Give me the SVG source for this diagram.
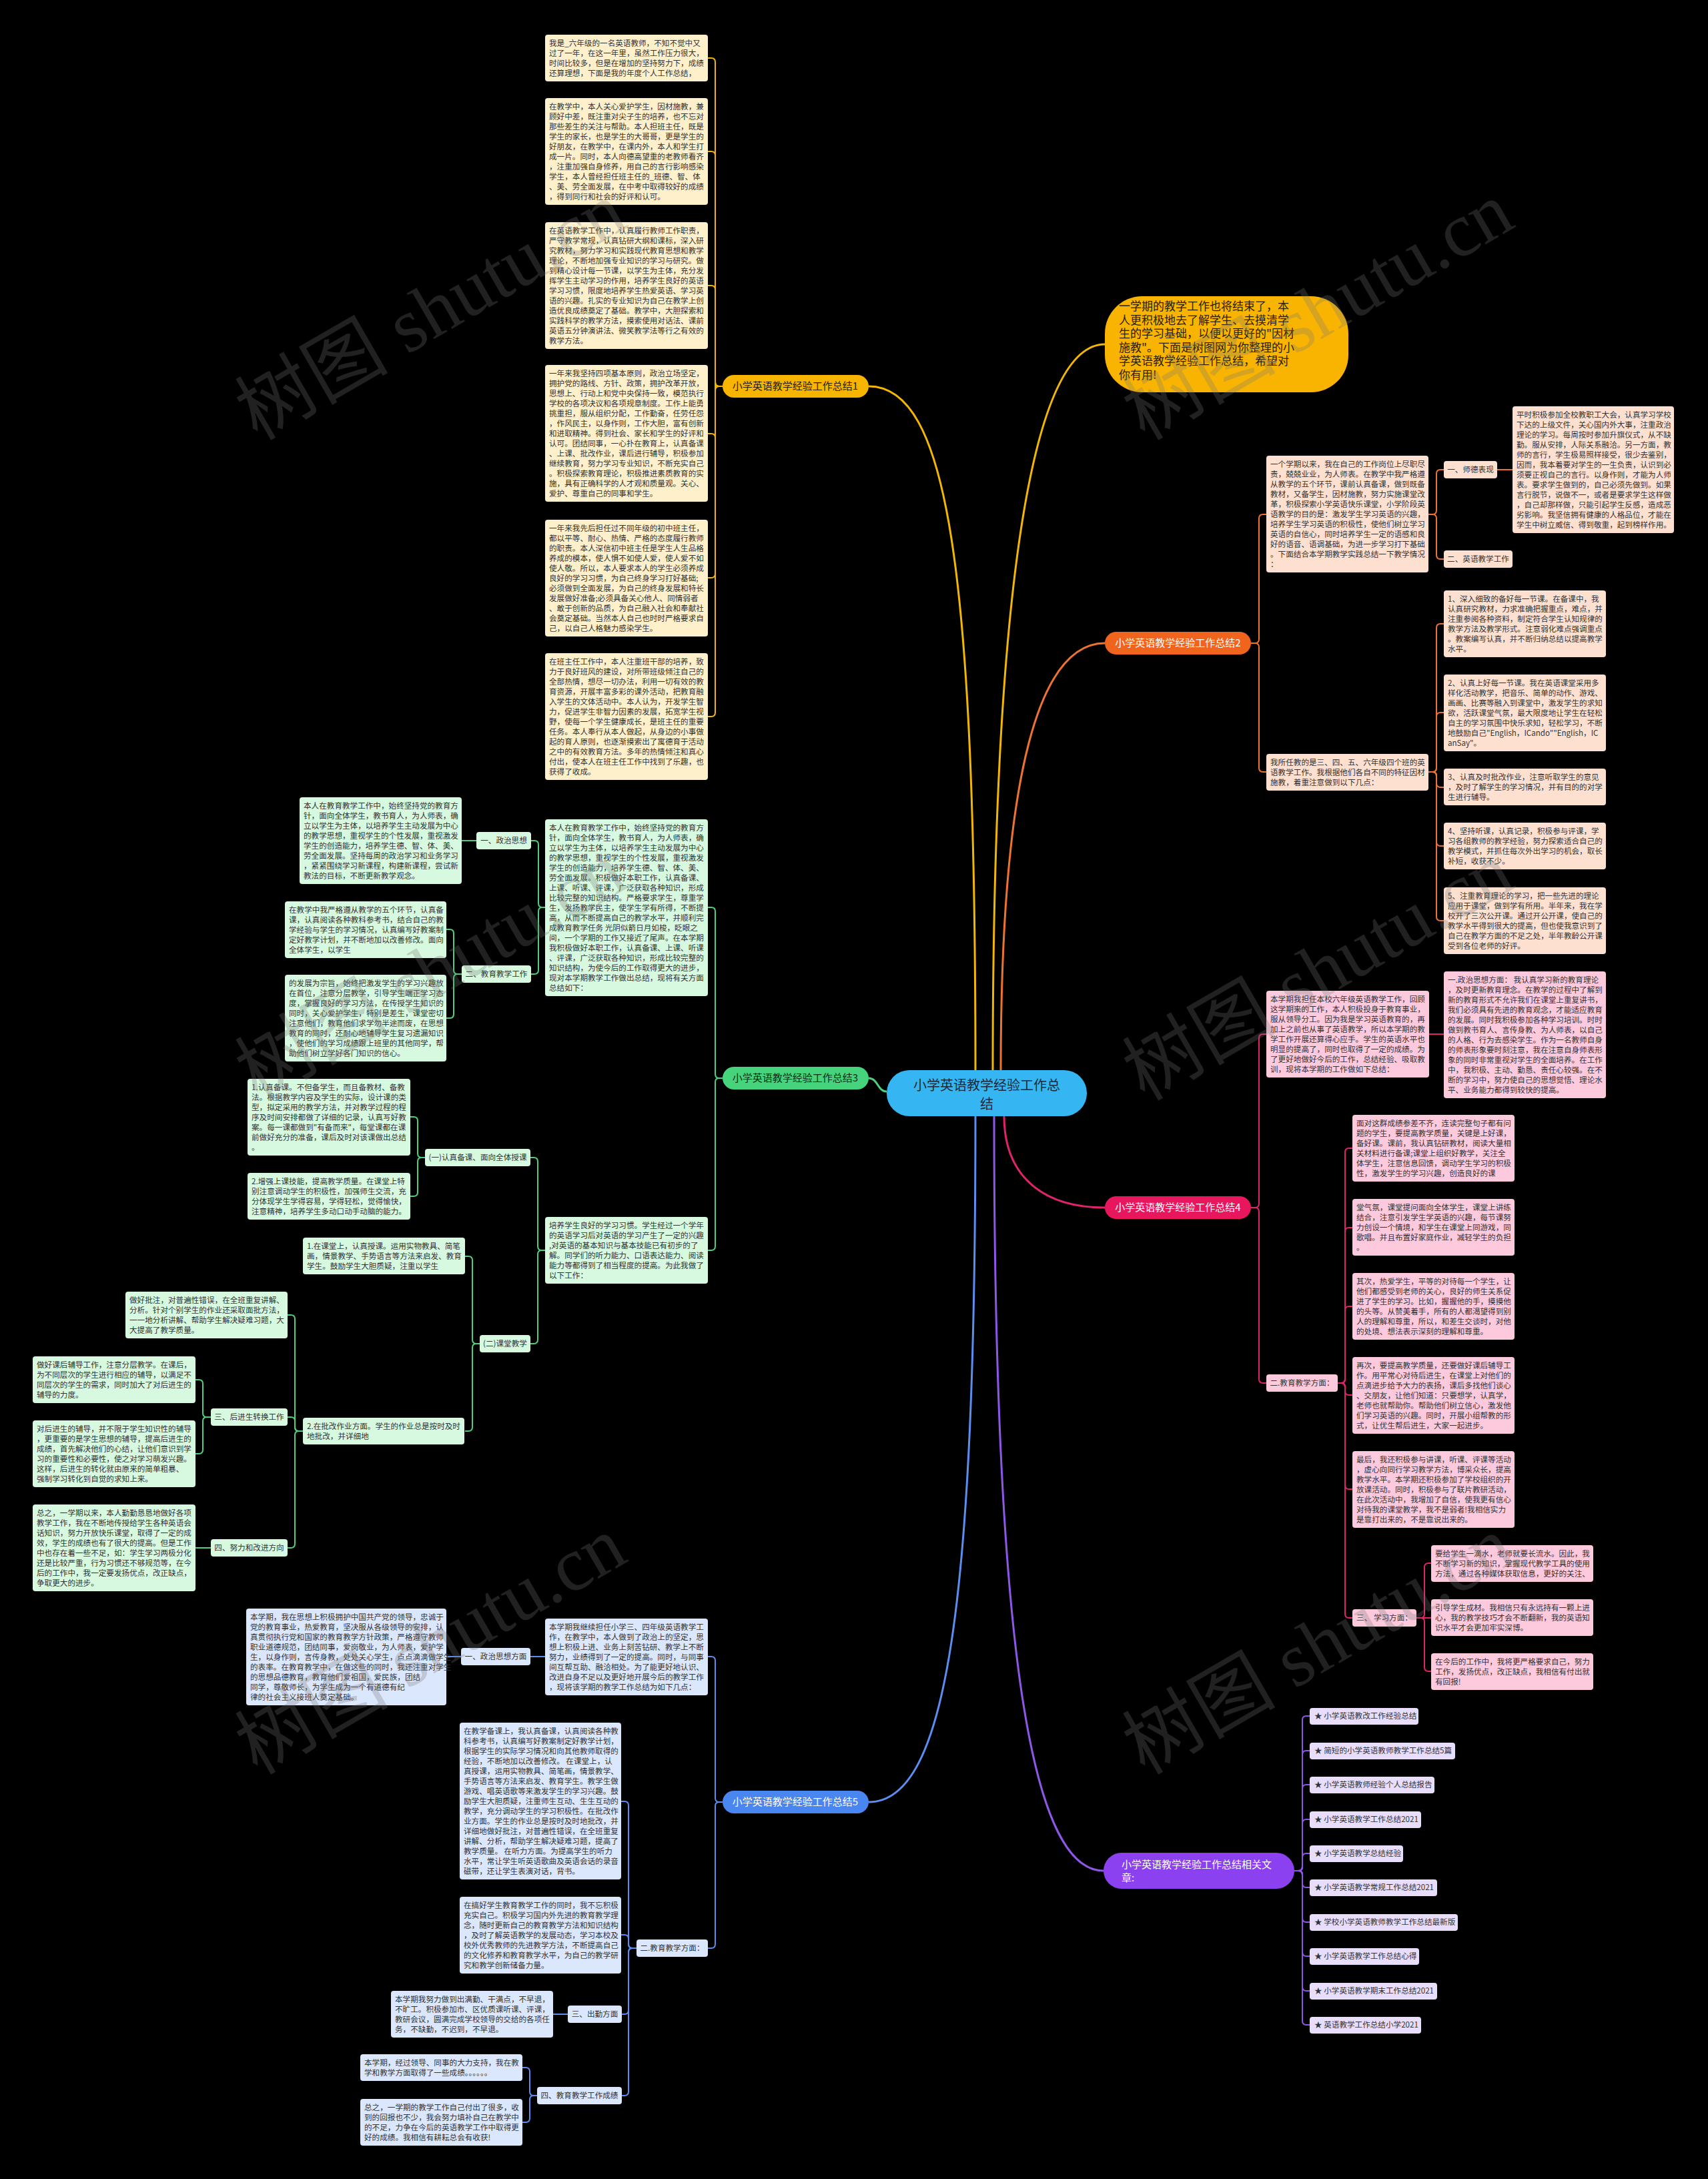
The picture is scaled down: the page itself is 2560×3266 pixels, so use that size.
<svg xmlns="http://www.w3.org/2000/svg" width="2560" height="3266" viewBox="0 0 2560 3266">
<style>
text{font-family:"Noto Sans CJK SC","Noto Sans",sans-serif}
.t{font-size:11.6px;fill:#333}
.lb{font-size:11.6px;fill:#333;text-anchor:middle}
.pl{font-size:15px;text-anchor:middle}
.c{fill:none;stroke-width:2}
.m{fill:none;stroke-width:3}
.ly{stroke:#f2b705}.lg{stroke:#4fcf7e}.lbu{stroke:#5b8ef0}.lo{stroke:#ee7330}.lm{stroke:#e0246b}.lp{stroke:#8f57e8}
.by{fill:#fdf0cb}.bg{fill:#d6f9e0}.bb{fill:#dbe7fd}.bo{fill:#fde0d0}.bm{fill:#fdc9dd}.bp{fill:#e8ddfb}
.wm{font-family:"Liberation Serif","Noto Sans CJK SC",serif;font-size:115px;fill:#777;fill-opacity:0.28;text-anchor:middle}
</style>
<rect width="2560" height="3266" fill="#000"/>

<g id="connectors">
<path class="m ly" d="M1488,1604 C1488,800 1560,516 1656,516"/>
<path class="m ly" d="M1462,1604 C1462,850 1420,579 1302,579"/>
<path class="m lo" d="M1500,1604 C1500,1150 1560,964 1656,964"/>
<path class="m lg" d="M1329,1636 C1315,1636 1316,1616 1302,1616"/>
<path class="m lm" d="M1505,1673 C1505,1760 1560,1810 1656,1810"/>
<path class="m lbu" d="M1462,1673 C1462,2400 1420,2701 1302,2701"/>
<path class="m lp" d="M1490,1673 C1490,2500 1550,2804 1654,2804"/>

<path class="c ly" d="M1083,579H1078Q1072,579 1072,573V93Q1072,87 1066,87H1061"/>
<path class="c ly" d="M1083,579H1078Q1072,579 1072,573V233Q1072,227 1066,227H1061"/>
<path class="c ly" d="M1083,579H1078Q1072,579 1072,573V434Q1072,428 1066,428H1061"/>
<path class="c ly" d="M1083,579H1078Q1072,579 1072,573V656Q1072,650 1066,650H1061"/>
<path class="c ly" d="M1083,579H1078Q1072,579 1072,585V860Q1072,866 1066,866H1061"/>
<path class="c ly" d="M1083,579H1078Q1072,579 1072,585V1068Q1072,1074 1066,1074H1061"/>

<path class="c lg" d="M1083,1616H1078Q1072,1616 1072,1610V1366Q1072,1360 1066,1360H1061"/>
<path class="c lg" d="M1083,1616H1078Q1072,1616 1072,1622V1868Q1072,1874 1066,1874H1061"/>
<path class="c lg" d="M817,1360H813Q807,1360 807,1354V1266Q807,1260 801,1260H796"/>
<path class="c lg" d="M817,1360H813Q807,1360 807,1366V1454Q807,1460 801,1460H796"/>
<path class="c lg" d="M714,1260H692"/>
<path class="c lg" d="M692,1460H686Q680,1460 680,1454V1399Q680,1393 674,1393H669"/>
<path class="c lg" d="M692,1460H686Q680,1460 680,1466V1520Q680,1526 674,1526H669"/>
<path class="c lg" d="M817,1874H812Q806,1874 806,1868V1741Q806,1735 800,1735H795"/>
<path class="c lg" d="M817,1874H812Q806,1874 806,1880V2008Q806,2014 800,2014H795"/>
<path class="c lg" d="M637,1735H632Q626,1735 626,1729V1680Q626,1674 620,1674H615"/>
<path class="c lg" d="M637,1735H632Q626,1735 626,1741V1787Q626,1793 620,1793H615"/>
<path class="c lg" d="M719,2014H714Q708,2014 708,2008V1889Q708,1883 702,1883H697"/>
<path class="c lg" d="M719,2014H714Q708,2014 708,2020V2139Q708,2145 702,2145H697"/>
<path class="c lg" d="M454,2145H448Q442,2145 442,2139V1977Q442,1971 436,1971H431"/>
<path class="c lg" d="M454,2145H448Q442,2145 442,2139V2130Q442,2124 436,2124H431"/>
<path class="c lg" d="M454,2145H448Q442,2145 442,2151V2314Q442,2320 436,2320H431"/>
<path class="c lg" d="M316,2124H310Q304,2124 304,2118V2074Q304,2068 298,2068H293"/>
<path class="c lg" d="M316,2124H310Q304,2124 304,2130V2173Q304,2179 298,2179H293"/>
<path class="c lg" d="M316,2320H293"/>

<path class="c lbu" d="M1083,2701H1078Q1072,2701 1072,2695V2489Q1072,2483 1066,2483H1061"/>
<path class="c lbu" d="M1083,2701H1078Q1072,2701 1072,2707V2914Q1072,2920 1066,2920H1061"/>
<path class="c lbu" d="M817,2483H795"/>
<path class="c lbu" d="M691,2483H669"/>
<path class="c lbu" d="M954,2920H948Q942,2920 942,2914V2706Q942,2700 936,2700H931"/>
<path class="c lbu" d="M954,2920H948Q942,2920 942,2914V2906Q942,2900 936,2900H931"/>
<path class="c lbu" d="M954,2920H948Q942,2920 942,2926V3013Q942,3019 936,3019H932"/>
<path class="c lbu" d="M954,2920H948Q942,2920 942,2926V3135Q942,3141 936,3141H932"/>
<path class="c lbu" d="M851,3019H829"/>
<path class="c lbu" d="M805,3141H800Q794,3141 794,3135V3105Q794,3099 788,3099H783"/>
<path class="c lbu" d="M805,3141H800Q794,3141 794,3147V3175Q794,3181 788,3181H783"/>

<path class="c lo" d="M1875,964H1881Q1887,964 1887,958V777Q1887,771 1893,771H1898"/>
<path class="c lo" d="M1875,964H1881Q1887,964 1887,970V1151Q1887,1157 1893,1157H1898"/>
<path class="c lo" d="M2141,771H2147Q2153,771 2153,765V710Q2153,704 2159,704H2164"/>
<path class="c lo" d="M2141,771H2147Q2153,771 2153,777V832Q2153,838 2159,838H2164"/>
<path class="c lo" d="M2244,704H2267"/>
<path class="c lo" d="M2141,1157H2147Q2153,1157 2153,1151V941Q2153,935 2159,935H2164"/>
<path class="c lo" d="M2141,1157H2147Q2153,1157 2153,1151V1074Q2153,1068 2159,1068H2164"/>
<path class="c lo" d="M2141,1157H2147Q2153,1157 2153,1163V1174Q2153,1180 2159,1180H2164"/>
<path class="c lo" d="M2141,1157H2147Q2153,1157 2153,1163V1262Q2153,1268 2159,1268H2164"/>
<path class="c lo" d="M2141,1157H2147Q2153,1157 2153,1163V1374Q2153,1380 2159,1380H2164"/>

<path class="c lm" d="M1875,1810H1881Q1887,1810 1887,1804V1556Q1887,1550 1893,1550H1898"/>
<path class="c lm" d="M1875,1810H1881Q1887,1810 1887,1816V2067Q1887,2073 1893,2073H1898"/>
<path class="c lm" d="M2142,1550H2164"/>
<path class="c lm" d="M2005,2073H2010Q2016,2073 2016,2067V1727Q2016,1721 2022,1721H2027"/>
<path class="c lm" d="M2005,2073H2010Q2016,2073 2016,2067V1846Q2016,1840 2022,1840H2027"/>
<path class="c lm" d="M2005,2073H2010Q2016,2073 2016,2067V1964Q2016,1958 2022,1958H2027"/>
<path class="c lm" d="M2005,2073H2010Q2016,2073 2016,2079V2085Q2016,2091 2022,2091H2027"/>
<path class="c lm" d="M2005,2073H2010Q2016,2073 2016,2079V2226Q2016,2232 2022,2232H2027"/>
<path class="c lm" d="M2005,2073H2010Q2016,2073 2016,2079V2419Q2016,2425 2022,2425H2027"/>
<path class="c lm" d="M2123,2425H2129Q2135,2425 2135,2419V2349Q2135,2343 2141,2343H2145"/>
<path class="c lm" d="M2123,2425H2145"/>
<path class="c lm" d="M2123,2425H2129Q2135,2425 2135,2431V2499Q2135,2505 2141,2505H2145"/>

<path class="c lp" d="M1940,2804H1946Q1952,2804 1952,2798V2578Q1952,2572 1958,2572H1963"/>
<path class="c lp" d="M1940,2804H1946Q1952,2804 1952,2798V2630Q1952,2624 1958,2624H1963"/>
<path class="c lp" d="M1940,2804H1946Q1952,2804 1952,2798V2681Q1952,2675 1958,2675H1963"/>
<path class="c lp" d="M1940,2804H1946Q1952,2804 1952,2798V2733Q1952,2727 1958,2727H1963"/>
<path class="c lp" d="M1940,2804H1946Q1952,2804 1952,2798V2784Q1952,2778 1958,2778H1963"/>
<path class="c lp" d="M1940,2804H1946Q1952,2804 1952,2810V2823Q1952,2829 1958,2829H1963"/>
<path class="c lp" d="M1940,2804H1946Q1952,2804 1952,2810V2875Q1952,2881 1958,2881H1963"/>
<path class="c lp" d="M1940,2804H1946Q1952,2804 1952,2810V2926Q1952,2932 1958,2932H1963"/>
<path class="c lp" d="M1940,2804H1946Q1952,2804 1952,2810V2978Q1952,2984 1958,2984H1963"/>
<path class="c lp" d="M1940,2804H1946Q1952,2804 1952,2810V3029Q1952,3035 1958,3035H1963"/>
</g>

<g id="center">
<rect x="1329" y="1604" width="300" height="69" rx="34" fill="#35b6f2"/>
<text x="1479" y="1634" text-anchor="middle" font-size="20" fill="#1e2a3a">小学英语教学经验工作总<tspan x="1479" dy="28">结</tspan></text>
</g>

<g id="intro">
<rect x="1656" y="444" width="365" height="144" rx="56" fill="#f8b400"/>
<text x="1677" y="465" font-size="17" fill="#2a2000"><tspan x="1677" dy="0">一学期的教学工作也将结束了，本</tspan><tspan x="1677" dy="20.5">人更积极地去了解学生、去摸清学</tspan><tspan x="1677" dy="20.5">生的学习基础，以便以更好的"因材</tspan><tspan x="1677" dy="20.5">施教"。下面是树图网为你整理的小</tspan><tspan x="1677" dy="20.5">学英语教学经验工作总结，希望对</tspan><tspan x="1677" dy="20.5">你有用!</tspan></text>
</g>

<g id="s1">
<rect x="1083" y="562" width="219" height="34" rx="17" fill="#f7b500"/>
<text class="pl" x="1192" y="584" fill="#2a2000">小学英语教学经验工作总结1</text>
</g>
<g id="s1-1"><rect class="by" x="817" y="52" width="244" height="70" rx="4"/>
<text class="t" x="823" y="68.5"><tspan x="823" dy="0">我是_六年级的一名英语教师，不知不觉中又</tspan><tspan x="823" dy="15">过了一年，在这一年里，虽然工作压力很大，</tspan><tspan x="823" dy="15">时间比较多，但是在增加的坚持努力下，成绩</tspan><tspan x="823" dy="15">还算理想，下面是我的年度个人工作总结，</tspan></text></g>
<g id="s1-2"><rect class="by" x="817" y="147" width="244" height="160" rx="4"/>
<text class="t" x="823" y="163.5"><tspan x="823" dy="0">在教学中，本人关心爱护学生，因材施教，兼</tspan><tspan x="823" dy="15">顾好中差，既注重对尖子生的培养，也不忘对</tspan><tspan x="823" dy="15">那些差生的关注与帮助。本人担班主任，既是</tspan><tspan x="823" dy="15">学生的家长，也是学生的大哥哥，更是学生的</tspan><tspan x="823" dy="15">好朋友，在教学中，在课内外，本人和学生打</tspan><tspan x="823" dy="15">成一片。同时，本人向德高望重的老教师看齐</tspan><tspan x="823" dy="15">，注重加强自身修养，用自己的言行影响感染</tspan><tspan x="823" dy="15">学生，本人曾经担任班主任的_班德、智、体</tspan><tspan x="823" dy="15">、美、劳全面发展，在中考中取得较好的成绩</tspan><tspan x="823" dy="15">，得到同行和社会的好评和认可。</tspan></text></g>
<g id="s1-3"><rect class="by" x="817" y="333" width="244" height="190" rx="4"/>
<text class="t" x="823" y="349.5"><tspan x="823" dy="0">在英语教学工作中，认真履行教师工作职责，</tspan><tspan x="823" dy="15">严守教学常规，认真钻研大纲和课标，深入研</tspan><tspan x="823" dy="15">究教材，努力学习和实践现代教育思想和教学</tspan><tspan x="823" dy="15">理论，不断地加强专业知识的学习与研究。做</tspan><tspan x="823" dy="15">到精心设计每一节课，以学生为主体，充分发</tspan><tspan x="823" dy="15">挥学生主动学习的作用，培养学生良好的英语</tspan><tspan x="823" dy="15">学习习惯，限度地培养学生热爱英语、学习英</tspan><tspan x="823" dy="15">语的兴趣。扎实的专业知识为自己在教学上创</tspan><tspan x="823" dy="15">造优良成绩奠定了基础。教学中，大胆探索和</tspan><tspan x="823" dy="15">实践科学的教学方法，摸索使用对话法、课前</tspan><tspan x="823" dy="15">英语五分钟演讲法、微笑教学法等行之有效的</tspan><tspan x="823" dy="15">教学方法。</tspan></text></g>
<g id="s1-4"><rect class="by" x="817" y="547" width="244" height="205" rx="4"/>
<text class="t" x="823" y="563.5"><tspan x="823" dy="0">一年来我坚持四项基本原则，政治立场坚定，</tspan><tspan x="823" dy="15">拥护党的路线、方针、政策，拥护改革开放，</tspan><tspan x="823" dy="15">思想上、行动上和党中央保持一致，模范执行</tspan><tspan x="823" dy="15">学校的各项决议和各项规章制度。工作上能勇</tspan><tspan x="823" dy="15">挑重担，服从组织分配，工作勤奋，任劳任怨</tspan><tspan x="823" dy="15">，作风民主，以身作则，工作大胆，富有创新</tspan><tspan x="823" dy="15">和进取精神。得到社会、家长和学生的好评和</tspan><tspan x="823" dy="15">认可。团结同事，一心扑在教育上，认真备课</tspan><tspan x="823" dy="15">、上课、批改作业，课后进行辅导，积极参加</tspan><tspan x="823" dy="15">继续教育，努力学习专业知识，不断充实自己</tspan><tspan x="823" dy="15">。积极探索教育理论，积极推进素质教育的实</tspan><tspan x="823" dy="15">施，具有正确科学的人才观和质量观。关心、</tspan><tspan x="823" dy="15">爱护、尊重自己的同事和学生。</tspan></text></g>
<g id="s1-5"><rect class="by" x="817" y="779" width="244" height="175" rx="4"/>
<text class="t" x="823" y="795.5"><tspan x="823" dy="0">一年来我先后担任过不同年级的初中班主任，</tspan><tspan x="823" dy="15">都以平等、耐心、热情、严格的态度履行教师</tspan><tspan x="823" dy="15">的职责。本人深信初中班主任是学生人生品格</tspan><tspan x="823" dy="15">养成的模本，使人惧不如使人爱，使人爱不如</tspan><tspan x="823" dy="15">使人敬。所以，本人要求本人的学生必须养成</tspan><tspan x="823" dy="15">良好的学习习惯，为自己终身学习打好基础;</tspan><tspan x="823" dy="15">必须做到全面发展，为自己的终身发展和特长</tspan><tspan x="823" dy="15">发展做好准备;必须具备关心他人、同情弱者</tspan><tspan x="823" dy="15">、敢于创新的品质，为自己融入社会和奉献社</tspan><tspan x="823" dy="15">会奠定基础。当然本人自己也时时严格要求自</tspan><tspan x="823" dy="15">己，以自己人格魅力感染学生。</tspan></text></g>
<g id="s1-6"><rect class="by" x="817" y="979" width="244" height="190" rx="4"/>
<text class="t" x="823" y="995.5"><tspan x="823" dy="0">在班主任工作中，本人注重班干部的培养，致</tspan><tspan x="823" dy="15">力于良好班风的建设，对所带班级倾注自己的</tspan><tspan x="823" dy="15">全部热情，想尽一切办法，利用一切有效的教</tspan><tspan x="823" dy="15">育资源，开展丰富多彩的课外活动，把教育融</tspan><tspan x="823" dy="15">入学生的文体活动中。本人认为，开发学生智</tspan><tspan x="823" dy="15">力，促进学生非智力因素的发展，拓宽学生视</tspan><tspan x="823" dy="15">野，使每一个学生健康成长，是班主任的重要</tspan><tspan x="823" dy="15">任务。本人奉行从本人做起，从身边的小事做</tspan><tspan x="823" dy="15">起的育人原则，也逐渐摸索出了寓德育于活动</tspan><tspan x="823" dy="15">之中的有效教育方法。多年的热情倾注和真心</tspan><tspan x="823" dy="15">付出，使本人在班主任工作中找到了乐趣，也</tspan><tspan x="823" dy="15">获得了收成。</tspan></text></g>

<g id="s3">
<rect x="1083" y="1599" width="219" height="34" rx="17" fill="#45d47b"/>
<text class="pl" x="1192" y="1621" fill="#0f2a18">小学英语教学经验工作总结3</text>
</g>
<g id="s3-a"><rect class="bg" x="817" y="1228" width="244" height="265" rx="4"/>
<text class="t" x="823" y="1244.5"><tspan x="823" dy="0">本人在教育教学工作中，始终坚持党的教育方</tspan><tspan x="823" dy="15">针，面向全体学生，教书育人，为人师表，确</tspan><tspan x="823" dy="15">立以学生为主体，以培养学生主动发展为中心</tspan><tspan x="823" dy="15">的教学思想，重视学生的个性发展，重视激发</tspan><tspan x="823" dy="15">学生的创造能力，培养学生德、智、体、美、</tspan><tspan x="823" dy="15">劳全面发展。积极做好本职工作，认真备课、</tspan><tspan x="823" dy="15">上课、听课、评课，广泛获取各种知识，形成</tspan><tspan x="823" dy="15">比较完整的知识结构。严格要求学生，尊重学</tspan><tspan x="823" dy="15">生，发扬教学民主，使学生学有所得，不断提</tspan><tspan x="823" dy="15">高，从而不断提高自己的教学水平，并顺利完</tspan><tspan x="823" dy="15">成教育教学任务 光阴似箭日月如梭，眨眼之</tspan><tspan x="823" dy="15">间，一个学期的工作又接近了尾声。在本学期</tspan><tspan x="823" dy="15">我积极做好本职工作，认真备课、上课、听课</tspan><tspan x="823" dy="15">、评课，广泛获取各种知识，形成比较完整的</tspan><tspan x="823" dy="15">知识结构，为使今后的工作取得更大的进步，</tspan><tspan x="823" dy="15">现对本学期教学工作做出总结，现将有关方面</tspan><tspan x="823" dy="15">总结如下：</tspan></text></g>
<g id="s3-a1"><rect class="bg" x="714" y="1247" width="82" height="26" rx="4"/><text class="lb" x="755" y="1264">一、政治思想</text></g>
<g id="s3-a1c"><rect class="bg" x="449" y="1195" width="243" height="130" rx="4"/>
<text class="t" x="455" y="1211.5"><tspan x="455" dy="0">本人在教育教学工作中，始终坚持党的教育方</tspan><tspan x="455" dy="15">针，面向全体学生，教书育人，为人师表，确</tspan><tspan x="455" dy="15">立以学生为主体，以培养学生主动发展为中心</tspan><tspan x="455" dy="15">的教学思想，重视学生的个性发展，重视激发</tspan><tspan x="455" dy="15">学生的创造能力，培养学生德、智、体、美、</tspan><tspan x="455" dy="15">劳全面发展。坚持每周的政治学习和业务学习</tspan><tspan x="455" dy="15">，紧紧围绕学习新课程，构建新课程，尝试新</tspan><tspan x="455" dy="15">教法的目标，不断更新教学观念。</tspan></text></g>
<g id="s3-a2"><rect class="bg" x="692" y="1447" width="104" height="26" rx="4"/><text class="lb" x="744" y="1464">二、教育教学工作</text></g>
<g id="s3-a2c1"><rect class="bg" x="427" y="1351" width="242" height="85" rx="4"/>
<text class="t" x="433" y="1367.5"><tspan x="433" dy="0">在教学中我严格遵从教学的五个环节，认真备</tspan><tspan x="433" dy="15">课，认真阅读各种教科参考书，结合自己的教</tspan><tspan x="433" dy="15">学经验与学生的学习情况，认真编写好教案制</tspan><tspan x="433" dy="15">定好教学计划，并不断地加以改善修改。面向</tspan><tspan x="433" dy="15">全体学生，以学生</tspan></text></g>
<g id="s3-a2c2"><rect class="bg" x="427" y="1461" width="242" height="130" rx="4"/>
<text class="t" x="433" y="1477.5"><tspan x="433" dy="0">的发展为宗旨，始终把激发学生的学习兴趣放</tspan><tspan x="433" dy="15">在首位，注意分层教学，引导学生端正学习态</tspan><tspan x="433" dy="15">度，掌握良好的学习方法，在传授学生知识的</tspan><tspan x="433" dy="15">同时，关心爱护学生，特别是差生，课堂密切</tspan><tspan x="433" dy="15">注意他们，教育他们求学勿半途而废，在思想</tspan><tspan x="433" dy="15">教育的同时，还耐心地辅导学生复习遗漏知识</tspan><tspan x="433" dy="15">，使他们的学习成绩跟上班里的其他同学，帮</tspan><tspan x="433" dy="15">助他们树立学好各门知识的信心。</tspan></text></g>
<g id="s3-b"><rect class="bg" x="817" y="1824" width="244" height="100" rx="4"/>
<text class="t" x="823" y="1840.5"><tspan x="823" dy="0">培养学生良好的学习习惯。学生经过一个学年</tspan><tspan x="823" dy="15">的英语学习后对英语的学习产生了一定的兴趣</tspan><tspan x="823" dy="15">,对英语的基本知识与基本技能已有初步的了</tspan><tspan x="823" dy="15">解。同学们的听力能力、口语表达能力、阅读</tspan><tspan x="823" dy="15">能力等都得到了相当程度的提高。为此我做了</tspan><tspan x="823" dy="15">以下工作：</tspan></text></g>
<g id="s3-b1"><rect class="bg" x="637" y="1722" width="158" height="26" rx="4"/><text class="lb" x="716" y="1739">(一)认真备课、面向全体授课</text></g>
<g id="s3-b1c1"><rect class="bg" x="371" y="1617" width="244" height="115" rx="4"/>
<text class="t" x="377" y="1633.5"><tspan x="377" dy="0">1.认真备课。不但备学生，而且备教材、备教</tspan><tspan x="377" dy="15">法。根据教学内容及学生的实际，设计课的类</tspan><tspan x="377" dy="15">型，拟定采用的教学方法，并对教学过程的程</tspan><tspan x="377" dy="15">序及时间安排都做了详细的记录，认真写好教</tspan><tspan x="377" dy="15">案。每一课都做到"有备而来"，每堂课都在课</tspan><tspan x="377" dy="15">前做好充分的准备，课后及时对该课做出总结</tspan><tspan x="377" dy="15">。</tspan></text></g>
<g id="s3-b1c2"><rect class="bg" x="371" y="1758" width="244" height="70" rx="4"/>
<text class="t" x="377" y="1774.5"><tspan x="377" dy="0">2.增强上课技能，提高教学质量。在课堂上特</tspan><tspan x="377" dy="15">别注意调动学生的积极性，加强师生交流，充</tspan><tspan x="377" dy="15">分体现学生学得容易，学得轻松，觉得愉快，</tspan><tspan x="377" dy="15">注意精神，培养学生多动口动手动脑的能力。</tspan></text></g>
<g id="s3-b2"><rect class="bg" x="719" y="2001" width="76" height="26" rx="4"/><text class="lb" x="757" y="2018">(二)课堂教学</text></g>
<g id="s3-b2c1"><rect class="bg" x="454" y="1855" width="243" height="55" rx="4"/>
<text class="t" x="460" y="1871.5"><tspan x="460" dy="0">1.在课堂上，认真授课。运用实物教具、简笔</tspan><tspan x="460" dy="15">画，情景教学、手势语言等方法来启发、教育</tspan><tspan x="460" dy="15">学生。鼓励学生大胆质疑，注重以学生</tspan></text></g>
<g id="s3-b2c2"><rect class="bg" x="454" y="2125" width="242" height="40" rx="4"/>
<text class="t" x="460" y="2141.5"><tspan x="460" dy="0">2.在批改作业方面。学生的作业总是按时及时</tspan><tspan x="460" dy="15">地批改，并详细地</tspan></text></g>
<g id="s3-pz"><rect class="bg" x="188" y="1936" width="243" height="70" rx="4"/>
<text class="t" x="194" y="1952.5"><tspan x="194" dy="0">做好批注，对普遍性错误，在全班重复讲解、</tspan><tspan x="194" dy="15">分析。针对个别学生的作业还采取面批方法，</tspan><tspan x="194" dy="15">一一地分析讲解、帮助学生解决疑难习题，大</tspan><tspan x="194" dy="15">大提高了教学质量。</tspan></text></g>
<g id="s3-hj"><rect class="bg" x="316" y="2111" width="115" height="26" rx="4"/><text class="lb" x="373.5" y="2128">三、后进生转换工作</text></g>
<g id="s3-hj1"><rect class="bg" x="49" y="2033" width="244" height="70" rx="4"/>
<text class="t" x="55" y="2049.5"><tspan x="55" dy="0">做好课后辅导工作，注意分层教学。在课后，</tspan><tspan x="55" dy="15">为不同层次的学生进行相应的辅导，以满足不</tspan><tspan x="55" dy="15">同层次的学生的需求，同时加大了对后进生的</tspan><tspan x="55" dy="15">辅导的力度。</tspan></text></g>
<g id="s3-hj2"><rect class="bg" x="49" y="2129" width="244" height="100" rx="4"/>
<text class="t" x="55" y="2145.5"><tspan x="55" dy="0">对后进生的辅导，并不限于学生知识性的辅导</tspan><tspan x="55" dy="15">，更重要的是学生思想的辅导，提高后进生的</tspan><tspan x="55" dy="15">成绩，首先解决他们的心结，让他们意识到学</tspan><tspan x="55" dy="15">习的重要性和必要性，使之对学习萌发兴趣。</tspan><tspan x="55" dy="15">这样，后进生的转化就由原来的简单粗暴、</tspan><tspan x="55" dy="15">强制学习转化到自觉的求知上来。</tspan></text></g>
<g id="s3-nl"><rect class="bg" x="316" y="2307" width="115" height="26" rx="4"/><text class="lb" x="373.5" y="2324">四、努力和改进方向</text></g>
<g id="s3-nl1"><rect class="bg" x="49" y="2255" width="244" height="130" rx="4"/>
<text class="t" x="55" y="2271.5"><tspan x="55" dy="0">总之，一学期以来，本人勤勤恳恳地做好各项</tspan><tspan x="55" dy="15">教学工作，我在不断地传授给学生各种英语会</tspan><tspan x="55" dy="15">话知识，努力开放快乐课堂，取得了一定的成</tspan><tspan x="55" dy="15">效，学生的成绩也有了很大的提高。但是工作</tspan><tspan x="55" dy="15">中也存在着一些不足，如：学生学习两极分化</tspan><tspan x="55" dy="15">还是比较严重，行为习惯还不够规范等，在今</tspan><tspan x="55" dy="15">后的工作中，我一定要发扬优点，改正缺点，</tspan><tspan x="55" dy="15">争取更大的进步。</tspan></text></g>

<g id="s5">
<rect x="1083" y="2684" width="219" height="34" rx="17" fill="#4a86f0"/>
<text class="pl" x="1192" y="2706" fill="#fff">小学英语教学经验工作总结5</text>
</g>
<g id="s5-c"><rect class="bb" x="817" y="2426" width="244" height="115" rx="4"/>
<text class="t" x="823" y="2442.5"><tspan x="823" dy="0">本学期我继续担任小学三、四年级英语教学工</tspan><tspan x="823" dy="15">作，在教学中，本人做到了政治上的坚定，思</tspan><tspan x="823" dy="15">想上积极上进、业务上刻苦钻研、教学上不断</tspan><tspan x="823" dy="15">努力，业绩得到了一定的提高。同时，与同事</tspan><tspan x="823" dy="15">间互帮互助、融洽相处。为了能更好地认识、</tspan><tspan x="823" dy="15">改进自身不足以及更好地开展今后的教学工作</tspan><tspan x="823" dy="15">，现将该学期的教学工作总结为如下几点：</tspan></text></g>
<g id="s5-1"><rect class="bb" x="691" y="2470" width="104" height="26" rx="4"/><text class="lb" x="743" y="2487">一、政治思想方面</text></g>
<g id="s5-1c"><rect class="bb" x="369" y="2411" width="300" height="145" rx="4"/>
<text class="t" x="375" y="2427.5"><tspan x="375" dy="0">本学期，我在思想上积极拥护中国共产党的领导，忠诚于</tspan><tspan x="375" dy="15">党的教育事业，热爱教育，坚决服从各级领导的安排，认</tspan><tspan x="375" dy="15">真贯彻执行党和国家的教育教学方针政策，严格遵守教师</tspan><tspan x="375" dy="15">职业道德规范，团结同事，爱岗敬业，为人师表，爱护学</tspan><tspan x="375" dy="15">生，以身作则，言传身教，处处关心学生，点点滴滴做学生</tspan><tspan x="375" dy="15">的表率。在教育教学中，在做这些的同时，我还注重对学生</tspan><tspan x="375" dy="15">的思想品德教育，教育他们爱祖国，爱民族，团结</tspan><tspan x="375" dy="15">同学，尊敬师长，为学生成为一个有道德有纪</tspan><tspan x="375" dy="15">律的社会主义接班人奠定基础。</tspan></text></g>
<g id="s5-2"><rect class="bb" x="954" y="2907" width="107" height="26" rx="4"/><text class="lb" x="1007.5" y="2924">二.教育教学方面：</text></g>
<g id="s5-2c1"><rect class="bb" x="689" y="2582" width="242" height="235" rx="4"/>
<text class="t" x="695" y="2598.5"><tspan x="695" dy="0">在教学备课上，我认真备课，认真阅读各种教</tspan><tspan x="695" dy="15">科参考书，认真编写好教案制定好教学计划，</tspan><tspan x="695" dy="15">根据学生的实际学习情况和向其他教师取得的</tspan><tspan x="695" dy="15">经验，不断地加以改善修改。 在课堂上，认</tspan><tspan x="695" dy="15">真授课，运用实物教具、简笔画，情景教学、</tspan><tspan x="695" dy="15">手势语言等方法来启发、教育学生。教学生做</tspan><tspan x="695" dy="15">游戏、唱英语歌等来激发学生的学习兴趣。鼓</tspan><tspan x="695" dy="15">励学生大胆质疑，注重师生互动、生生互动的</tspan><tspan x="695" dy="15">教学，充分调动学生的学习积极性。在批改作</tspan><tspan x="695" dy="15">业方面。学生的作业总是按时及时地批改，并</tspan><tspan x="695" dy="15">详细地做好批注，对普遍性错误，在全班重复</tspan><tspan x="695" dy="15">讲解、分析，帮助学生解决疑难习题，提高了</tspan><tspan x="695" dy="15">教学质量。 在听力方面。为提高学生的听力</tspan><tspan x="695" dy="15">水平，常让学生听英语歌曲及英语会话的录音</tspan><tspan x="695" dy="15">磁带，还让学生表演对话，背书。</tspan></text></g>
<g id="s5-2c2"><rect class="bb" x="689" y="2843" width="242" height="115" rx="4"/>
<text class="t" x="695" y="2859.5"><tspan x="695" dy="0">在搞好学生教育教学工作的同时，我不忘积极</tspan><tspan x="695" dy="15">充实自己。积极学习国内外先进的教育教学理</tspan><tspan x="695" dy="15">念，随时更新自己的教育教学方法和知识结构</tspan><tspan x="695" dy="15">，及时了解英语教学的发展动态，学习本校及</tspan><tspan x="695" dy="15">校外优秀教师的先进教学方法，不断提高自己</tspan><tspan x="695" dy="15">的文化修养和教育教学水平，为自己的教学研</tspan><tspan x="695" dy="15">究和教学创新储备力量。</tspan></text></g>
<g id="s5-3"><rect class="bb" x="851" y="3006" width="81" height="26" rx="4"/><text class="lb" x="891.5" y="3023">三、出勤方面</text></g>
<g id="s5-3c"><rect class="bb" x="586" y="2984" width="243" height="70" rx="4"/>
<text class="t" x="592" y="3000.5"><tspan x="592" dy="0">本学期我努力做到出满勤、干满点，不早退，</tspan><tspan x="592" dy="15">不旷工。积极参加市、区优质课听课、评课，</tspan><tspan x="592" dy="15">教研会议，圆满完成学校领导的交给的各项任</tspan><tspan x="592" dy="15">务，不缺勤，不迟到，不早退。</tspan></text></g>
<g id="s5-4"><rect class="bb" x="805" y="3128" width="127" height="26" rx="4"/><text class="lb" x="868.5" y="3145">四、教育教学工作成绩</text></g>
<g id="s5-4c1"><rect class="bb" x="540" y="3079" width="243" height="40" rx="4"/>
<text class="t" x="546" y="3095.5"><tspan x="546" dy="0">本学期，经过领导、同事的大力支持，我在教</tspan><tspan x="546" dy="15">学和教学方面取得了一些成绩。。。。。。</tspan></text></g>
<g id="s5-4c2"><rect class="bb" x="540" y="3146" width="243" height="70" rx="4"/>
<text class="t" x="546" y="3162.5"><tspan x="546" dy="0">总之，一学期的教学工作自己付出了很多，收</tspan><tspan x="546" dy="15">到的回报也不少，我会努力填补自己在教学中</tspan><tspan x="546" dy="15">的不足，力争在今后的英语教学工作中取得更</tspan><tspan x="546" dy="15">好的成绩。我相信有耕耘总会有收获!</tspan></text></g>

<g id="s2">
<rect x="1656" y="947" width="219" height="34" rx="17" fill="#f0641e"/>
<text class="pl" x="1765.5" y="969" fill="#fff">小学英语教学经验工作总结2</text>
</g>
<g id="s2-d"><rect class="bo" x="1898" y="683" width="243" height="175" rx="4"/>
<text class="t" x="1904" y="699.5"><tspan x="1904" dy="0">一个学期以来，我在自己的工作岗位上尽职尽</tspan><tspan x="1904" dy="15">责，兢兢业业，为人师表。在教学中我严格遵</tspan><tspan x="1904" dy="15">从教学的五个环节，课前认真备课，做到既备</tspan><tspan x="1904" dy="15">教材，又备学生，因材施教，努力实施课堂改</tspan><tspan x="1904" dy="15">革，积极探索小学英语快乐课堂，小学阶段英</tspan><tspan x="1904" dy="15">语教学的目的是：激发学生学习英语的兴趣，</tspan><tspan x="1904" dy="15">培养学生学习英语的积极性，使他们树立学习</tspan><tspan x="1904" dy="15">英语的自信心，同时培养学生一定的语感和良</tspan><tspan x="1904" dy="15">好的语音、语调基础，为进一步学习打下基础</tspan><tspan x="1904" dy="15">。下面结合本学期教学实践总结一下教学情况</tspan><tspan x="1904" dy="15">：</tspan></text></g>
<g id="s2-d1"><rect class="bo" x="2164" y="691" width="80" height="26" rx="4"/><text class="lb" x="2204" y="708">一、师德表现</text></g>
<g id="s2-d1c"><rect class="bo" x="2267" y="609" width="242" height="190" rx="4"/>
<text class="t" x="2273" y="625.5"><tspan x="2273" dy="0">平时积极参加全校教职工大会，认真学习学校</tspan><tspan x="2273" dy="15">下达的上级文件，关心国内外大事，注重政治</tspan><tspan x="2273" dy="15">理论的学习。每周按时参加升旗仪式，从不缺</tspan><tspan x="2273" dy="15">勤。服从安排，人际关系融洽。另一方面，教</tspan><tspan x="2273" dy="15">师的言行，学生极易照样接受，很少去鉴别，</tspan><tspan x="2273" dy="15">因而，我本着要对学生的一生负责，认识到必</tspan><tspan x="2273" dy="15">须要正视自己的言行。以身作则，才能为人师</tspan><tspan x="2273" dy="15">表。要求学生做到的，自己必须先做到。如果</tspan><tspan x="2273" dy="15">言行脱节，说做不一，或者是要求学生这样做</tspan><tspan x="2273" dy="15">，自己却那样做，只能引起学生反感，造成恶</tspan><tspan x="2273" dy="15">劣影响。我坚信拥有健康的人格品位，才能在</tspan><tspan x="2273" dy="15">学生中树立威信、得到敬重，起到榜样作用。</tspan></text></g>
<g id="s2-d2"><rect class="bo" x="2164" y="825" width="103" height="26" rx="4"/><text class="lb" x="2215.5" y="842">二、英语教学工作</text></g>
<g id="s2-e"><rect class="bo" x="1898" y="1130" width="243" height="55" rx="4"/>
<text class="t" x="1904" y="1146.5"><tspan x="1904" dy="0">我所任教的是三、四、五、六年级四个班的英</tspan><tspan x="1904" dy="15">语教学工作。我根据他们各自不同的特征因材</tspan><tspan x="1904" dy="15">施教，着重注意做到以下几点：</tspan></text></g>
<g id="s2-e1"><rect class="bo" x="2164" y="885" width="243" height="100" rx="4"/>
<text class="t" x="2170" y="901.5"><tspan x="2170" dy="0">1、深入细致的备好每一节课。在备课中，我</tspan><tspan x="2170" dy="15">认真研究教材，力求准确把握重点，难点，并</tspan><tspan x="2170" dy="15">注重参阅各种资料，制定符合学生认知规律的</tspan><tspan x="2170" dy="15">教学方法及教学形式。注意弱化难点强调重点</tspan><tspan x="2170" dy="15">。教案编写认真，并不断归纳总结以提高教学</tspan><tspan x="2170" dy="15">水平。</tspan></text></g>
<g id="s2-e2"><rect class="bo" x="2164" y="1011" width="243" height="115" rx="4"/>
<text class="t" x="2170" y="1027.5"><tspan x="2170" dy="0">2、认真上好每一节课。我在英语课堂采用多</tspan><tspan x="2170" dy="15">样化活动教学，把音乐、简单的动作、游戏、</tspan><tspan x="2170" dy="15">画画、比赛等融入到课堂中，激发学生的求知</tspan><tspan x="2170" dy="15">欲，活跃课堂气氛，最大限度地让学生在轻松</tspan><tspan x="2170" dy="15">自主的学习氛围中快乐求知，轻松学习，不断</tspan><tspan x="2170" dy="15">地鼓励自己"English，ICando""English，IC</tspan><tspan x="2170" dy="15">anSay"。</tspan></text></g>
<g id="s2-e3"><rect class="bo" x="2164" y="1152" width="243" height="55" rx="4"/>
<text class="t" x="2170" y="1168.5"><tspan x="2170" dy="0">3、认真及时批改作业，注意听取学生的意见</tspan><tspan x="2170" dy="15">，及时了解学生的学习情况，并有目的的对学</tspan><tspan x="2170" dy="15">生进行辅导。</tspan></text></g>
<g id="s2-e4"><rect class="bo" x="2164" y="1233" width="243" height="70" rx="4"/>
<text class="t" x="2170" y="1249.5"><tspan x="2170" dy="0">4、坚持听课，认真记录，积极参与评课，学</tspan><tspan x="2170" dy="15">习各组教师的教学经验，努力探索适合自己的</tspan><tspan x="2170" dy="15">教学模式，并抓住每次外出学习的机会，取长</tspan><tspan x="2170" dy="15">补短，收获不少。</tspan></text></g>
<g id="s2-e5"><rect class="bo" x="2164" y="1330" width="243" height="100" rx="4"/>
<text class="t" x="2170" y="1346.5"><tspan x="2170" dy="0">5、注重教育理论的学习，把一些先进的理论</tspan><tspan x="2170" dy="15">应用于课堂，做到学有所用。半年来，我在学</tspan><tspan x="2170" dy="15">校开了三次公开课。通过开公开课，使自己的</tspan><tspan x="2170" dy="15">教学水平得到很大的提高，但也使我意识到了</tspan><tspan x="2170" dy="15">自己在教学方面的不足之处，半年教龄公开课</tspan><tspan x="2170" dy="15">受到各位老师的好评。</tspan></text></g>

<g id="s4">
<rect x="1656" y="1793" width="219" height="34" rx="17" fill="#e8175d"/>
<text class="pl" x="1765.5" y="1815" fill="#fff">小学英语教学经验工作总结4</text>
</g>
<g id="s4-f"><rect class="bm" x="1898" y="1485" width="244" height="130" rx="4"/>
<text class="t" x="1904" y="1501.5"><tspan x="1904" dy="0">本学期我担任本校六年级英语教学工作，回顾</tspan><tspan x="1904" dy="15">这学期来的工作，本人积极投身于教育事业，</tspan><tspan x="1904" dy="15">服从领导分工。因为我是学习英语教育的，再</tspan><tspan x="1904" dy="15">加上之前也从事了英语教学，所以本学期的教</tspan><tspan x="1904" dy="15">学工作开展还算得心应手。学生的英语水平也</tspan><tspan x="1904" dy="15">明显的提高了，同时也取得了一定的成绩。为</tspan><tspan x="1904" dy="15">了更好地做好今后的工作，总结经验、吸取教</tspan><tspan x="1904" dy="15">训，现将本学期的工作做如下总结：</tspan></text></g>
<g id="s4-f1"><rect class="bm" x="2164" y="1456" width="243" height="190" rx="4"/>
<text class="t" x="2170" y="1472.5"><tspan x="2170" dy="0">一.政治思想方面： 我认真学习新的教育理论</tspan><tspan x="2170" dy="15">，及时更新教育理念。在教学的过程中了解到</tspan><tspan x="2170" dy="15">新的教育形式不允许我们在课堂上重复讲书，</tspan><tspan x="2170" dy="15">我们必须具有先进的教育观念，才能适应教育</tspan><tspan x="2170" dy="15">的发展。同时我积极参加各种学习培训。时时</tspan><tspan x="2170" dy="15">做到教书育人、言传身教、为人师表，以自己</tspan><tspan x="2170" dy="15">的人格、行为去感染学生。作为一名教师自身</tspan><tspan x="2170" dy="15">的师表形象要时刻注意，我在注意自身师表形</tspan><tspan x="2170" dy="15">象的同时非常重视对学生的全面培养。在工作</tspan><tspan x="2170" dy="15">中，我积极、主动、勤恳、责任心较强。在不</tspan><tspan x="2170" dy="15">断的学习中，努力使自己的思想觉悟、理论水</tspan><tspan x="2170" dy="15">平、业务能力都得到较快的提高。</tspan></text></g>
<g id="s4-2"><rect class="bm" x="1898" y="2060" width="107" height="26" rx="4"/><text class="lb" x="1951.5" y="2077">二.教育教学方面：</text></g>
<g id="s4-2a"><rect class="bm" x="2027" y="1671" width="243" height="100" rx="4"/>
<text class="t" x="2033" y="1687.5"><tspan x="2033" dy="0">面对这群成绩参差不齐，连读完整句子都有问</tspan><tspan x="2033" dy="15">题的学生，要提高教学质量，关键是上好课，</tspan><tspan x="2033" dy="15">备好课。课前，我认真钻研教材，阅读大量相</tspan><tspan x="2033" dy="15">关材料进行备课;课堂上组织好教学，关注全</tspan><tspan x="2033" dy="15">体学生，注意信息回馈，调动学生学习的积极</tspan><tspan x="2033" dy="15">性，激发学生的学习兴趣，创造良好的课</tspan></text></g>
<g id="s4-2b"><rect class="bm" x="2027" y="1797" width="243" height="85" rx="4"/>
<text class="t" x="2033" y="1813.5"><tspan x="2033" dy="0">堂气氛，课堂提问面向全体学生，课堂上讲练</tspan><tspan x="2033" dy="15">结合，注意引发学生学英语的兴趣，每节课努</tspan><tspan x="2033" dy="15">力创设一个情境，和学生在课堂上同游戏，同</tspan><tspan x="2033" dy="15">歌唱。并且布置好家庭作业，减轻学生的负担</tspan><tspan x="2033" dy="15">。</tspan></text></g>
<g id="s4-2c"><rect class="bm" x="2027" y="1908" width="243" height="100" rx="4"/>
<text class="t" x="2033" y="1924.5"><tspan x="2033" dy="0">其次，热爱学生，平等的对待每一个学生，让</tspan><tspan x="2033" dy="15">他们都感受到老师的关心，良好的师生关系促</tspan><tspan x="2033" dy="15">进了学生的学习。比如，握握他的手，摸摸他</tspan><tspan x="2033" dy="15">的头等。从赞美着手，所有的人都渴望得到别</tspan><tspan x="2033" dy="15">人的理解和尊重，所以，和差生交谈时，对他</tspan><tspan x="2033" dy="15">的处境、想法表示深刻的理解和尊重。</tspan></text></g>
<g id="s4-2d"><rect class="bm" x="2027" y="2034" width="243" height="115" rx="4"/>
<text class="t" x="2033" y="2050.5"><tspan x="2033" dy="0">再次，要提高教学质量，还要做好课后辅导工</tspan><tspan x="2033" dy="15">作。用平常心对待后进生，在课堂上对他们的</tspan><tspan x="2033" dy="15">点滴进步给予大力的表扬，课后多找他们谈心</tspan><tspan x="2033" dy="15">、交朋友，让他们知道：只要想学，认真学，</tspan><tspan x="2033" dy="15">老师也就帮助你。帮助他们树立信心，激发他</tspan><tspan x="2033" dy="15">们学习英语的兴趣。同时，开展小组帮教的形</tspan><tspan x="2033" dy="15">式，让优生帮后进生，大家一起进步。</tspan></text></g>
<g id="s4-2e"><rect class="bm" x="2027" y="2175" width="243" height="115" rx="4"/>
<text class="t" x="2033" y="2191.5"><tspan x="2033" dy="0">最后，我还积极参与讲课，听课、评课等活动</tspan><tspan x="2033" dy="15">，虚心向同行学习教学方法，博采众长，提高</tspan><tspan x="2033" dy="15">教学水平。本学期还积极参加了学校组织的开</tspan><tspan x="2033" dy="15">放课活动。同时，积极参与了联片教研活动，</tspan><tspan x="2033" dy="15">在此次活动中，我增加了自信，使我更有信心</tspan><tspan x="2033" dy="15">对待我的课堂教学，我不是弱者!我相信实力</tspan><tspan x="2033" dy="15">是靠打出来的，不是靠说出来的。</tspan></text></g>
<g id="s4-3"><rect class="bm" x="2027" y="2412" width="96" height="26" rx="4"/><text class="lb" x="2075" y="2429">三、 学习方面：</text></g>
<g id="s4-3a"><rect class="bm" x="2145" y="2316" width="243" height="55" rx="4"/>
<text class="t" x="2151" y="2332.5"><tspan x="2151" dy="0">要给学生一滴水，老师就要长流水。因此，我</tspan><tspan x="2151" dy="15">不断学习新的知识，掌握现代教学工具的使用</tspan><tspan x="2151" dy="15">方法，通过各种媒体获取信息，更好的关注、</tspan></text></g>
<g id="s4-3b"><rect class="bm" x="2145" y="2397" width="243" height="55" rx="4"/>
<text class="t" x="2151" y="2413.5"><tspan x="2151" dy="0">引导学生成材。我相信只有永远持有一颗上进</tspan><tspan x="2151" dy="15">心，我的教学技巧才会不断翻新，我的英语知</tspan><tspan x="2151" dy="15">识水平才会更加牢实深博。</tspan></text></g>
<g id="s4-3c"><rect class="bm" x="2145" y="2478" width="243" height="55" rx="4"/>
<text class="t" x="2151" y="2494.5"><tspan x="2151" dy="0">在今后的工作中，我将更严格要求自己，努力</tspan><tspan x="2151" dy="15">工作，发扬优点，改正缺点，我相信有付出就</tspan><tspan x="2151" dy="15">有回报!</tspan></text></g>

<g id="related">
<rect x="1654" y="2777" width="286" height="54" rx="27" fill="#8b41ef"/>
<text x="1681" y="2800" font-size="15" fill="#fff">小学英语教学经验工作总结相关文<tspan x="1681" dy="20">章:</tspan></text>
</g>
<g id="r1"><rect class="bp" x="1963" y="2560" width="163" height="25" rx="4"/><text class="t" x="1970" y="2576">★ 小学英语教改工作经验总结</text></g>
<g id="r2"><rect class="bp" x="1963" y="2612" width="218" height="25" rx="4"/><text class="t" x="1970" y="2628">★ 简短的小学英语教师教学工作总结5篇</text></g>
<g id="r3"><rect class="bp" x="1963" y="2663" width="187" height="25" rx="4"/><text class="t" x="1970" y="2679">★ 小学英语教师经验个人总结报告</text></g>
<g id="r4"><rect class="bp" x="1963" y="2715" width="167" height="25" rx="4"/><text class="t" x="1970" y="2731">★ 小学英语教学工作总结2021</text></g>
<g id="r5"><rect class="bp" x="1963" y="2766" width="140" height="25" rx="4"/><text class="t" x="1970" y="2782">★ 小学英语教学总结经验</text></g>
<g id="r6"><rect class="bp" x="1963" y="2817" width="191" height="25" rx="4"/><text class="t" x="1970" y="2833">★ 小学英语教学常规工作总结2021</text></g>
<g id="r7"><rect class="bp" x="1963" y="2869" width="222" height="25" rx="4"/><text class="t" x="1970" y="2885">★ 学校小学英语教师教学工作总结最新版</text></g>
<g id="r8"><rect class="bp" x="1963" y="2920" width="164" height="25" rx="4"/><text class="t" x="1970" y="2936">★ 小学英语教学工作总结心得</text></g>
<g id="r9"><rect class="bp" x="1963" y="2972" width="191" height="25" rx="4"/><text class="t" x="1970" y="2988">★ 小学英语教学期末工作总结2021</text></g>
<g id="r10"><rect class="bp" x="1963" y="3023" width="167" height="25" rx="4"/><text class="t" x="1970" y="3039">★ 英语教学工作总结小学2021</text></g>

<g id="watermark">
<text class="wm" transform="translate(665,500) rotate(-30)">树图 shutu.cn</text>
<text class="wm" transform="translate(1995,500) rotate(-30)">树图 shutu.cn</text>
<text class="wm" transform="translate(665,1490) rotate(-30)">树图 shutu.cn</text>
<text class="wm" transform="translate(1995,1490) rotate(-30)">树图 shutu.cn</text>
<text class="wm" transform="translate(665,2500) rotate(-30)">树图 shutu.cn</text>
<text class="wm" transform="translate(1995,2500) rotate(-30)">树图 shutu.cn</text>
</g>
</svg>
